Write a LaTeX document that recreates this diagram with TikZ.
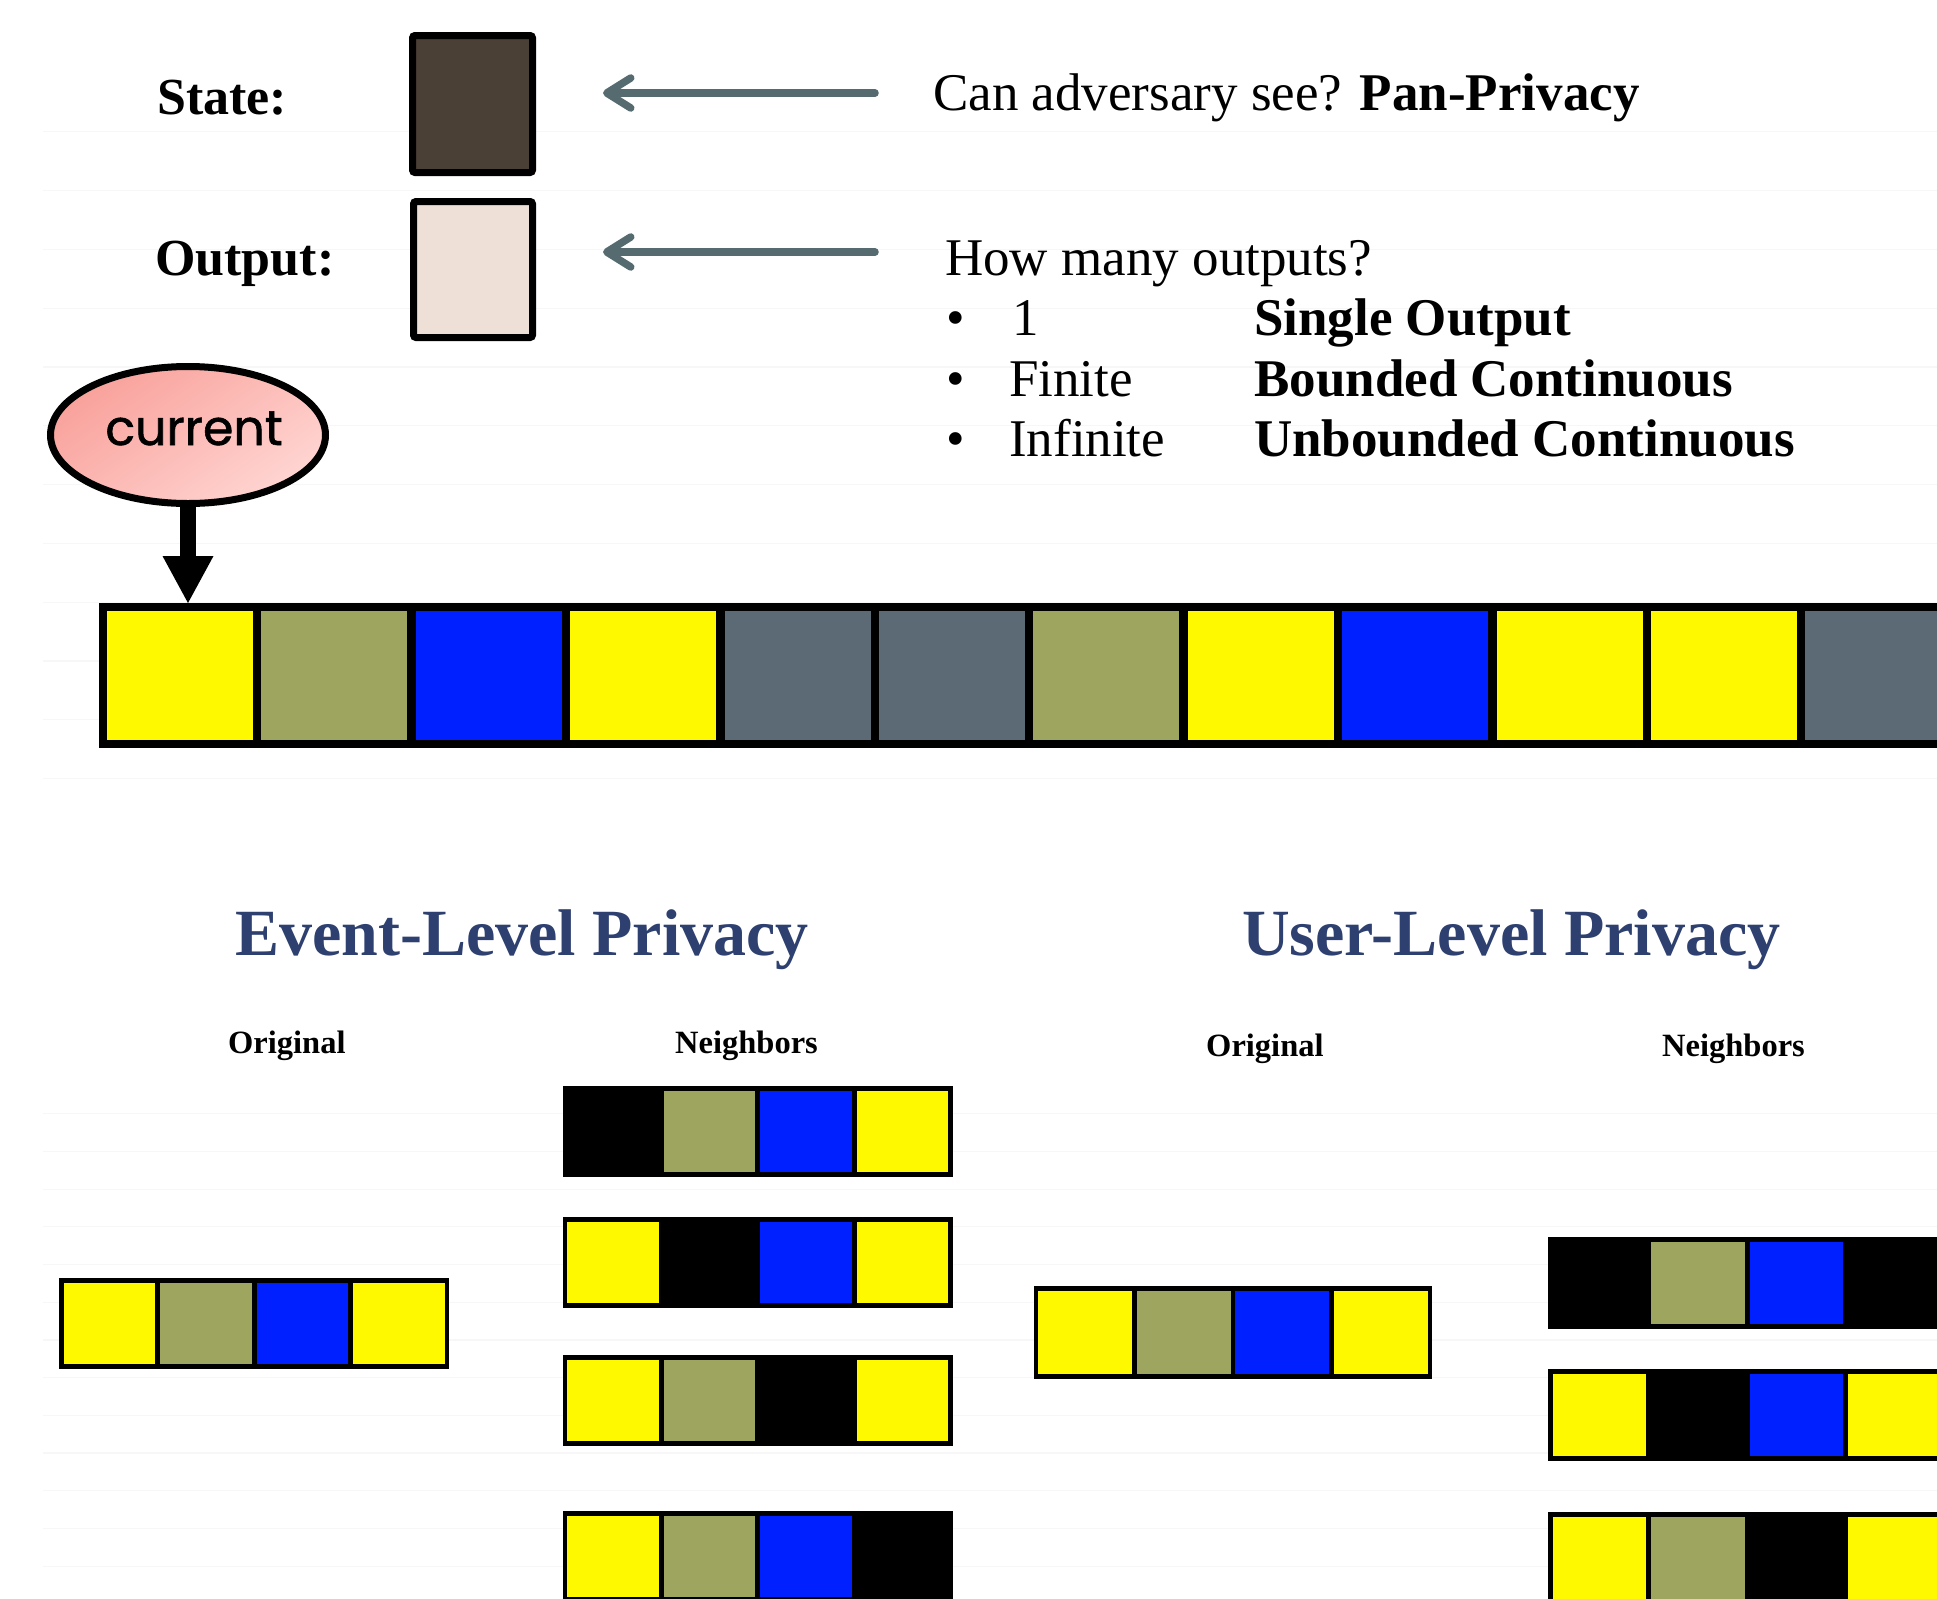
\documentclass[tikz,border=0pt]{standalone}
\usepackage{fontspec}
\setmainfont{Liberation Serif}
\newfontfamily\curfont[FakeBold=1.2]{Poppins}
\usetikzlibrary{arrows.meta,shapes.geometric}
\definecolor{cY}{HTML}{FFF900}
\definecolor{cO}{HTML}{9DA55F}
\definecolor{cB}{HTML}{0020FF}
\definecolor{cG}{HTML}{5B6A75}
\definecolor{stateC}{HTML}{4B4036}
\definecolor{outC}{HTML}{EEE0D6}
\definecolor{arrC}{HTML}{566B70}
\definecolor{titleC}{HTML}{2E4070}
\definecolor{pinkD}{HTML}{F9A19B}
\definecolor{pinkL}{HTML}{FFD5D2}
\definecolor{faintC}{HTML}{F7F7F7}
\newcommand\cellbar[6]{%
  \fill[black] (#1,#2) rectangle ({#1+9+3*#3+#4},{#2+#5});
  \foreach \cc [count=\ii from 0] in {#6}
    \fill[\cc] ({#1+4.5+#3*\ii},{#2+5}) rectangle ++(#4,{#5-10});
}
\tikzset{
  lab/.style={font=\fontsize{52}{60}\selectfont\bfseries, anchor=base west, inner sep=0},
  txt/.style={font=\fontsize{53}{60}\selectfont, anchor=base west, inner sep=0},
  ttl/.style={font=\fontsize{66}{70}\selectfont\bfseries, text=titleC, anchor=base west, inner sep=0},
  sublab/.style={font=\fontsize{32.5}{36}\selectfont\bfseries, anchor=base west, inner sep=0},
  colbox/.style={draw=black, line width=7, rounded corners=2.5, inner sep=0},
  garrow/.style={draw=arrC, line width=7.5, line cap=round,
    -{Straight Barb[length=24pt,width=30pt,line cap=round,line join=round]}},
  curr/.style={ellipse, draw=black, line width=7, minimum width=275, minimum height=137,
    inner sep=0, top color=pinkD, bottom color=pinkL, shading angle=35},
  faint/.style={draw=faintC, line width=1.2},
}
\begin{document}
\begin{tikzpicture}[x=1pt,y=-1pt]
\useasboundingbox (0,0) rectangle (1937,1598);
\clip (0,0) rectangle (1937,1598);
\fill[white] (0,0) rectangle (1937,1598);
% faint ruled lines
\foreach \k in {0,...,11} \draw[faint] (43,{131.7+58.8*\k}) -- (1937,{131.7+58.8*\k});
\foreach \k in {0,...,12} \draw[faint] (43,{1113.7+37.7*\k}) -- (1937,{1113.7+37.7*\k});

% top labels and boxes
\node[lab] (lstate) at (157,114) {State:};
\node[lab] (lout) at (155,275) {Output:};
\node[colbox, fill=stateC, minimum width=120, minimum height=137] (state) at (472.5,104) {};
\node[colbox, fill=outC, minimum width=119, minimum height=136] (output) at (473,269.5) {};

\coordinate (a1s) at (875,93); \coordinate (a1e) at (603,93);
\coordinate (a2s) at (875,252); \coordinate (a2e) at (603,252);
\draw[garrow] (a1s) -- (a1e);
\draw[garrow] (a2s) -- (a2e);

\node[txt] (q1) at (933,110.7) {Can adversary see? \textbf{Pan-Privacy}};
\node[txt] (q2) at (945,275) {How many outputs?};
\node[txt] (b1) at (946,335) {\textbullet};
\node[txt] (b2) at (946,396) {\textbullet};
\node[txt] (b3) at (946,456) {\textbullet};
\node[txt] (i1) at (1012,335) {1};
\node[txt] (i2) at (1009,396) {Finite};
\node[txt] (i3) at (1009,456) {Infinite};
\node[txt, font=\fontsize{53}{60}\selectfont\bfseries] (m1) at (1254,335) {Single Output};
\node[txt, font=\fontsize{53}{60}\selectfont\bfseries] (m2) at (1254,396) {Bounded Continuous};
\node[txt, font=\fontsize{53}{60}\selectfont\bfseries] (m3) at (1254,456) {Unbounded Continuous};

% current pointer
\node[curr] (cur) at (188,435) {};
\node[anchor=base, inner sep=0, font=\curfont\fontsize{49}{52}\selectfont] (curt) at (194,445) {current};

% main strip
\fill[black] (99,603) rectangle (1960,748);
\foreach \cc [count=\ii from 0] in {cY,cO,cB,cY,cG,cG,cO,cY,cB,cY,cY,cG}
  \fill[\cc] ({107+154.4*\ii},611) rectangle ++(146,129);
\coordinate (tip) at (188,603);
\draw[line width=16, -{Triangle[length=47pt,width=51pt,line width=0pt]}] (cur.south) -- (tip);

% lower part
\node[ttl] (tev) at (235,955.5) {Event-Level Privacy};
\node[ttl] (tus) at (1242,955.5) {User-Level Privacy};
\node[sublab] (o1) at (228,1053) {Original};
\node[sublab] (n1) at (675,1053) {Neighbors};
\node[sublab] (o2) at (1206,1056) {Original};
\node[sublab] (n2) at (1662,1056) {Neighbors};

\cellbar{59}{1278}{96.5}{91.5}{91}{cY,cO,cB,cY}
\cellbar{562.5}{1086}{96.5}{91.5}{91}{black,cO,cB,cY}
\cellbar{562.5}{1216.5}{96.5}{91.5}{91}{cY,black,cB,cY}
\cellbar{562.5}{1355}{96.5}{91.5}{91}{cY,cO,black,cY}
\cellbar{562.5}{1511}{96.5}{91.5}{91}{cY,cO,cB,black}

\cellbar{1033.5}{1285.7}{98.5}{94}{93}{cY,cO,cB,cY}
\cellbar{1548}{1237}{98.5}{93.5}{92}{black,cO,cB,black}
\cellbar{1548}{1369}{98.5}{93.5}{92}{cY,black,cB,cY}
\cellbar{1548}{1512}{98.5}{93.5}{92}{cY,cO,black,cY}
\end{tikzpicture}
\end{document}
